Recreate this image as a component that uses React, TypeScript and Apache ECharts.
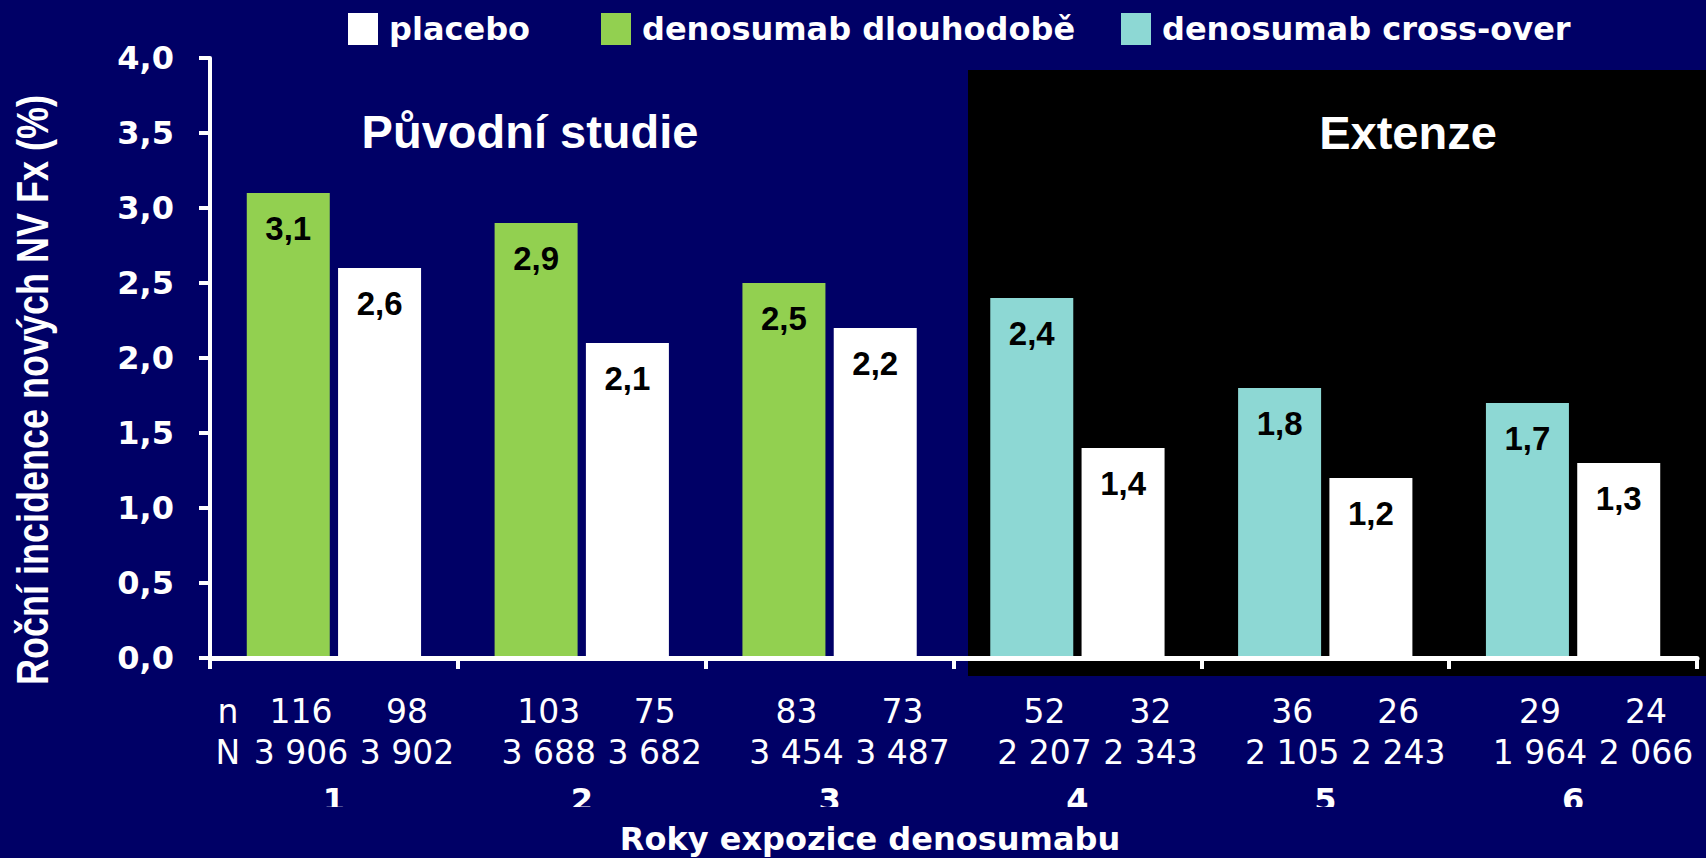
import React, { useEffect, useRef } from "react";
import * as echarts from "echarts";

const categories = ["1", "2", "3", "4", "5", "6"];
const seriesNames = ["placebo", "denosumab dlouhodobě", "denosumab cross-over"];
const denosumabLong: (number | string)[] = [3.1, 2.9, 2.5, "-", "-", "-"];
const denosumabCross: (number | string)[] = ["-", "-", "-", 2.4, 1.8, 1.7];
const placebo = [2.6, 2.1, 2.2, 1.4, 1.2, 1.3];
const nActive = [116, 103, 83, 52, 36, 29];
const nPlacebo = [98, 75, 73, 32, 26, 24];
const NActive = [3906, 3688, 3454, 2207, 2105, 1964];
const NPlacebo = [3902, 3682, 3487, 2343, 2243, 2066];
const rowPrefixes = ["n", "N"];
const sectionLabels = ["Původní studie", "Extenze"];
const yAxisTitle = "Roční incidence nových NV Fx (%)";
const xAxisTitle = "Roky expozice denosumabu";

const NAVY = "#000066";
const GREEN = "#92D050";
const TEAL = "#8DD8D4";
const WHITE = "#FFFFFF";

const fmtThousands = (n: number) => String(n).replace(/\B(?=(\d{3})+(?!\d))/g, " ");
const fmtDec = (v: number) => v.toFixed(1).replace(".", ",");

export default function App() {
  const ref = useRef<HTMLDivElement>(null);

  useEffect(() => {
    if (!ref.current) return;
    const chart = echarts.init(ref.current, undefined, { renderer: "svg" });

    const barLabel = {
      show: true,
      position: "insideTop",
      distance: 19,
      color: "#000",
      fontFamily: "Liberation Sans",
      fontWeight: "bold",
      fontSize: 33,
      formatter: (p: any) => fmtDec(Number(p.value)),
    };

    const richBase = {
      fontFamily: "DejaVu Sans",
      fontSize: 33,
      color: WHITE,
      lineHeight: 41,
      align: "center",
    };

    const legendLefts = [348, 601, 1121];

    chart.setOption({
      animation: false,
      backgroundColor: NAVY,
      grid: { left: 210, right: 9, top: 58, bottom: 200, containLabel: false },
      legend: seriesNames.map((name, i) => ({
        data: [name],
        left: legendLefts[i],
        top: 13,
        padding: 0,
        itemWidth: 30,
        itemHeight: 32,
        icon: "rect",
        selectedMode: false,
        textStyle: {
          color: WHITE,
          fontFamily: "DejaVu Sans",
          fontWeight: "bold",
          fontSize: 32,
          padding: [0, 0, 0, 6],
        },
      })),
      xAxis: {
        type: "category",
        data: categories,
        z: 5,
        axisLine: { lineStyle: { color: WHITE, width: 5 } },
        axisTick: { show: true, interval: 0, length: 11, lineStyle: { color: WHITE, width: 4 } },
        axisLabel: {
          interval: 0,
          hideOverlap: false,
          margin: 33,
          color: WHITE,
          formatter: (v: string, i: number) => {
            const p1 = i === 0 ? rowPrefixes[0] : "\u00a0";
            const p2 = i === 0 ? rowPrefixes[1] : "\u00a0";
            return (
              `{s|${p1}}{a|${nActive[i]}}{b|${nPlacebo[i]}}\n` +
              `{s|${p2}}{a|${fmtThousands(NActive[i])}}{b|${fmtThousands(NPlacebo[i])}}\n` +
              `{c|${v}}`
            );
          },
          rich: {
            s: { ...richBase, width: 40 },
            a: { ...richBase, width: 106 },
            b: { ...richBase, width: 106 },
            c: {
              fontFamily: "DejaVu Sans",
              fontWeight: "bold",
              fontSize: 32,
              color: WHITE,
              lineHeight: 53,
              align: "center",
            },
          },
        },
        splitLine: { show: false },
      },
      yAxis: {
        type: "value",
        min: 0,
        max: 4,
        interval: 0.5,
        z: 5,
        axisLine: { show: true, lineStyle: { color: WHITE, width: 4 } },
        axisTick: { show: true, length: 11, lineStyle: { color: WHITE, width: 4 } },
        axisLabel: {
          margin: 36,
          color: WHITE,
          fontFamily: "DejaVu Sans",
          fontWeight: "bold",
          fontSize: 32,
          formatter: (v: number) => fmtDec(v),
        },
        splitLine: { show: false },
      },
      series: [
        {
          name: seriesNames[1],
          type: "bar",
          stack: "active",
          data: denosumabLong,
          barWidth: 83,
          barGap: "10%",
          itemStyle: { color: GREEN },
          label: barLabel,
        },
        {
          name: seriesNames[2],
          type: "bar",
          stack: "active",
          data: denosumabCross,
          barWidth: 83,
          barGap: "10%",
          itemStyle: { color: TEAL },
          label: barLabel,
        },
        {
          name: seriesNames[0],
          type: "bar",
          data: placebo,
          barWidth: 83,
          barGap: "10%",
          itemStyle: { color: WHITE },
          label: barLabel,
        },
      ],
      graphic: [
        {
          type: "rect",
          z: -10,
          shape: { x: 968, y: 70, width: 738, height: 606 },
          style: { fill: "#000000" },
          silent: true,
        },
        {
          type: "text",
          x: 530,
          y: 131,
          z: 10,
          style: {
            text: sectionLabels[0],
            fill: WHITE,
            fontFamily: "Liberation Sans",
            fontWeight: "bold",
            fontSize: 47,
            align: "center",
            verticalAlign: "middle",
          },
        },
        {
          type: "text",
          x: 1408,
          y: 132,
          z: 10,
          style: {
            text: sectionLabels[1],
            fill: WHITE,
            fontFamily: "Liberation Sans",
            fontWeight: "bold",
            fontSize: 47,
            align: "center",
            verticalAlign: "middle",
          },
        },
        {
          type: "text",
          x: 33,
          y: 390,
          z: 10,
          rotation: Math.PI / 2,
          scaleY: 1.25,
          style: {
            text: yAxisTitle,
            fill: WHITE,
            fontFamily: "Liberation Sans",
            fontWeight: "bold",
            fontSize: 36,
            align: "center",
            verticalAlign: "middle",
          },
        },
        {
          type: "rect",
          z: 100,
          shape: { x: 0, y: 807, width: 1706, height: 51 },
          style: { fill: NAVY },
          silent: true,
        },
        {
          type: "text",
          x: 870,
          y: 839,
          z: 101,
          style: {
            text: xAxisTitle,
            fill: WHITE,
            fontFamily: "DejaVu Sans",
            fontWeight: "bold",
            fontSize: 32,
            align: "center",
            verticalAlign: "middle",
          },
        },
      ],
    });

    return () => chart.dispose();
  }, []);

  return (
    <div
      ref={ref}
      style={{ position: "fixed", left: 0, top: 0, width: 1706, height: 858 }}
    />
  );
}
